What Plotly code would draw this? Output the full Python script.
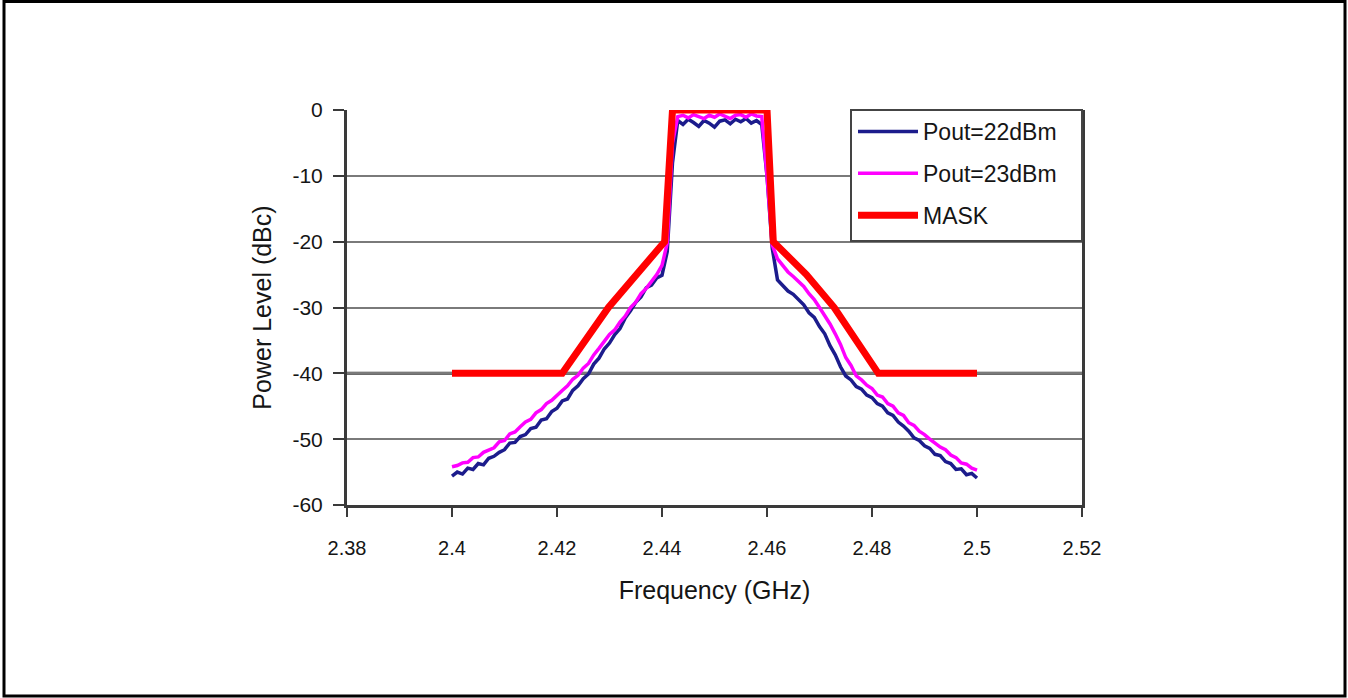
import plotly.graph_objects as go

# Frequency grid (GHz)
freq = [2.400, 2.401, 2.402, 2.403, 2.404, 2.405, 2.406, 2.407, 2.408, 2.409,
        2.410, 2.411, 2.412, 2.413, 2.414, 2.415, 2.416, 2.417, 2.418, 2.419,
        2.420, 2.421, 2.422, 2.423, 2.424, 2.425, 2.426, 2.427, 2.428, 2.429,
        2.430, 2.431, 2.432, 2.433, 2.434, 2.435, 2.436, 2.437, 2.438, 2.439,
        2.440, 2.441, 2.442, 2.443, 2.444, 2.445, 2.446, 2.447, 2.448, 2.449,
        2.450, 2.451, 2.452, 2.453, 2.454, 2.455, 2.456, 2.457, 2.458, 2.459,
        2.460, 2.461, 2.462, 2.463, 2.464, 2.465, 2.466, 2.467, 2.468, 2.469,
        2.470, 2.471, 2.472, 2.473, 2.474, 2.475, 2.476, 2.477, 2.478, 2.479,
        2.480, 2.481, 2.482, 2.483, 2.484, 2.485, 2.486, 2.487, 2.488, 2.489,
        2.490, 2.491, 2.492, 2.493, 2.494, 2.495, 2.496, 2.497, 2.498, 2.499,
        2.500]

# Pout = 22 dBm (dBc)
p22 = [-55.6, -55.0, -55.3, -54.4, -54.6, -53.7, -53.9, -52.9, -52.6, -52.0,
       -51.6, -50.6, -50.5, -49.6, -49.3, -48.4, -48.2, -47.1, -46.9, -45.8,
       -45.3, -44.2, -43.9, -42.6, -41.9, -40.8, -40.1, -38.6, -37.7, -36.3,
       -35.4, -34.1, -33.2, -31.6, -30.5, -29.2, -28.4, -27.0, -26.6, -25.5,
       -25.1, -21.5, -8.0, -1.6, -2.2, -1.4, -1.9, -2.5, -1.6, -2.0,
       -2.6, -1.7, -1.5, -2.1, -1.4, -1.8, -1.3, -2.0, -1.6, -2.2,
       -10.0, -21.0, -25.8, -26.6, -27.5, -28.0, -28.9, -29.6, -30.8, -31.5,
       -32.9, -34.0, -35.8, -37.2, -39.0, -40.4, -41.0, -42.0, -42.4, -43.3,
       -43.7, -44.6, -45.0, -46.0, -46.4, -47.4, -48.0, -48.8, -49.8, -50.2,
       -51.0, -51.4, -52.3, -52.5, -53.4, -53.7, -54.6, -54.5, -55.4, -55.2,
       -55.9]

# Pout = 23 dBm (dBc)
p23 = [-54.2, -54.0, -53.6, -53.5, -52.8, -52.7, -52.0, -51.6, -51.3, -50.4,
       -50.2, -49.2, -48.9, -48.1, -47.4, -47.0, -46.0, -45.5, -44.6, -44.1,
       -43.3, -42.6, -41.9, -40.9, -40.3, -39.2, -38.5, -37.2, -36.2, -35.2,
       -34.1, -33.4, -32.2, -31.3, -30.0, -29.2, -27.9, -27.1, -26.0, -25.0,
       -23.6, -20.2, -5.0, -1.0, -0.8, -1.2, -0.7, -1.0, -1.3, -0.8,
       -1.1, -0.6, -1.0, -1.3, -0.8, -0.7, -1.1, -0.6, -0.9, -1.0,
       -10.0, -20.5, -22.6, -23.6, -24.6, -25.3, -26.1, -26.8, -27.9, -28.8,
       -30.0, -31.2, -32.5, -34.0, -35.6, -37.6, -38.8, -40.4, -41.0, -41.8,
       -42.3, -43.3, -43.6, -44.6, -45.0, -46.0, -46.4, -47.5, -47.9, -48.8,
       -49.3, -50.0, -50.6, -51.2, -51.6, -52.4, -52.8, -53.6, -53.8, -54.4,
       -54.7]

# Spectral mask
mask_f = [2.400, 2.421, 2.4298, 2.4358, 2.4405, 2.442, 2.460, 2.4612, 2.4675, 2.4728, 2.4812, 2.500]
mask_db = [-40, -40, -30, -24.5, -20, 0, 0, -20, -25, -30, -40, -40]

x_ticks = [2.38, 2.40, 2.42, 2.44, 2.46, 2.48, 2.50, 2.52]
x_tick_text = ["2.38", "2.4", "2.42", "2.44", "2.46", "2.48", "2.5", "2.52"]
y_ticks = [0, -10, -20, -30, -40, -50, -60]
y_tick_text = ["0", "-10", "-20", "-30", "-40", "-50", "-60"]
mask_floor = -40

FONT = "Liberation Sans, Arial, sans-serif"
TXT = "#151515"

fig = go.Figure()
fig.add_trace(go.Scatter(x=freq, y=p22, mode="lines", name="Pout=22dBm",
                         legendgroup="a", line=dict(color="#1c1c8c", width=3.5)))
fig.add_trace(go.Scatter(x=freq, y=p23, mode="lines", name="Pout=23dBm",
                         legendgroup="b", line=dict(color="#ff00ff", width=3.5)))
fig.add_trace(go.Scatter(x=mask_f, y=mask_db, mode="lines", name="MASK",
                         legendgroup="c", line=dict(color="#ff0000", width=7)))

W, H = 1348, 698
L, R, T, B = 347, 266, 110, 193
pw, ph = W - L - R, H - T - B

def px(x):
    return (x - L) / pw

def py(y):
    return (H - B - y) / ph

shapes = [
    # -40 dB emphasised gridline
    dict(type="line", xref="paper", yref="y", x0=0, x1=1, y0=mask_floor, y1=mask_floor,
         line=dict(color="#3a3a3a", width=3), layer="below"),
    # legend box
    dict(type="rect", xref="paper", yref="paper", x0=px(851), x1=1, y0=py(241), y1=1,
         fillcolor="white", line=dict(color="#444444", width=2), layer="above"),
    # outer border
    dict(type="rect", xref="paper", yref="paper", x0=px(4), x1=px(1345), y0=py(696), y1=py(1.5),
         fillcolor="rgba(0,0,0,0)", line=dict(color="black", width=3), layer="above"),
]

fig.update_layout(
    width=W, height=H,
    margin=dict(l=L, r=R, t=T, b=B, pad=0),
    paper_bgcolor="white", plot_bgcolor="white",
    font=dict(family=FONT, color=TXT, size=20),
    showlegend=True,
    legend=dict(x=px(853), y=py(110), xanchor="left", yanchor="top",
                bgcolor="rgba(0,0,0,0)", borderwidth=0,
                font=dict(size=23, family=FONT, color=TXT),
                traceorder="grouped", tracegroupgap=9, itemwidth=60),
    shapes=shapes,
    xaxis=dict(range=[2.38, 2.52], tickvals=x_ticks, ticktext=x_tick_text,
               showgrid=False, zeroline=False,
               showline=True, linecolor="#3a3a3a", linewidth=3, mirror=False,
               ticks="outside", ticklen=9, tickwidth=2, tickcolor="#3a3a3a",
               ticklabelstandoff=14,
               tickfont=dict(size=20),
               title=dict(text="Frequency (GHz)", font=dict(size=25), standoff=24)),
    yaxis=dict(range=[-60, 0], tickvals=y_ticks, ticktext=y_tick_text,
               showgrid=True, gridcolor="#7a7a7a", gridwidth=2,
               zeroline=False,
               showline=True, linecolor="#3a3a3a", linewidth=3, mirror=True,
               ticks="outside", ticklen=11, tickwidth=2, tickcolor="#3a3a3a",
               ticklabelstandoff=6,
               tickfont=dict(size=21),
               title=dict(text="Power Level (dBc)", font=dict(size=25), standoff=14)),
)

fig.write_html("out.html", config={"displayModeBar": False},
               post_script="document.body.style.margin='0';document.body.style.overflow='hidden';")
